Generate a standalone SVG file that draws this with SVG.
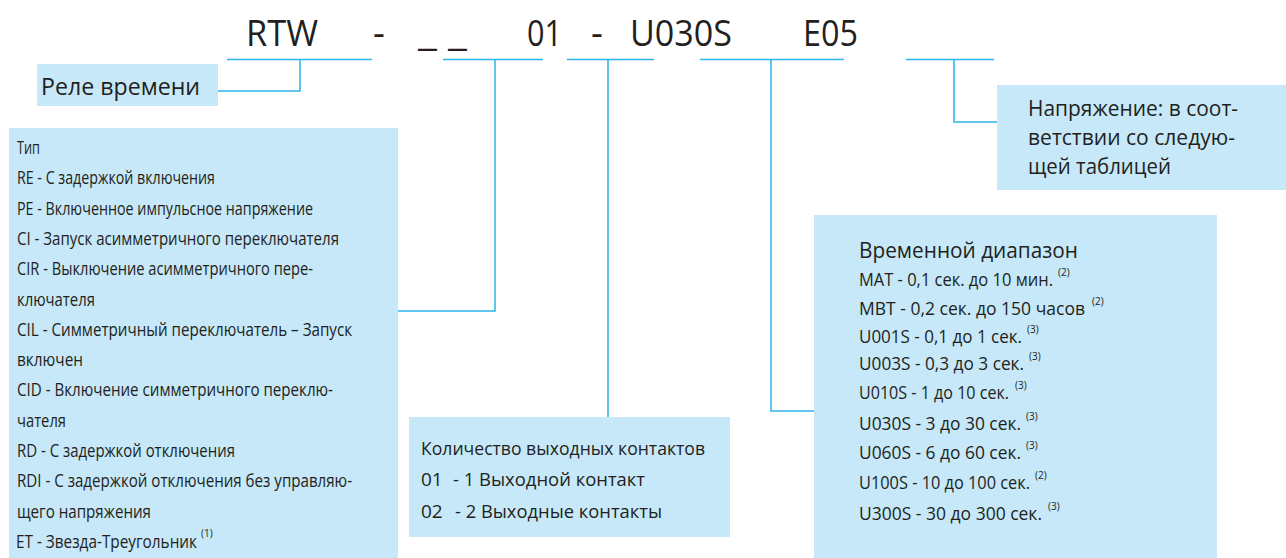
<svg xmlns="http://www.w3.org/2000/svg" width="1286" height="558" viewBox="0 0 1286 558">
<style>
text{font-family:"Open Sans","Noto Sans","Liberation Sans",sans-serif;fill:#231f20}
.code{font-size:37px}
.box{fill:#c6e8f8}
.t18{font-size:18px}
.t19{font-size:19px}
.t21{font-size:21px}
.t24{font-size:24px}
.sup{font-size:10px}
.ln{fill:none;stroke:#2bb5e9;stroke-width:1.5}
</style>
<rect width="1286" height="558" fill="#fff"/>
<g id="code">
<text class="code" x="246" y="46" textLength="72" lengthAdjust="spacingAndGlyphs">RTW</text>
<text class="code" x="373" y="46">-</text>
<text class="code" x="418" y="46" textLength="49" lengthAdjust="spacingAndGlyphs">_ _</text>
<text class="code" x="527" y="46" textLength="35" lengthAdjust="spacingAndGlyphs">01</text>
<text class="code" x="591" y="46">-</text>
<text class="code" x="630" y="46" textLength="102" lengthAdjust="spacingAndGlyphs">U030S</text>
<text class="code" x="803" y="46" textLength="55" lengthAdjust="spacingAndGlyphs">E05</text>
</g>
<g id="connectors">
<path class="ln" d="M227 59.5H372M300 59.5V91H218"/>
<path class="ln" d="M443 59.5H543M495 59.5V311H398"/>
<path class="ln" d="M567 59.5H654M608 59.5V417"/>
<path class="ln" d="M700 59.5H844M771 59.5V411H814"/>
<path class="ln" d="M906 59.5H994M954 59.5V122H997"/>
</g>
<g id="relay">
<rect class="box" x="37" y="64" width="181" height="42"/>
<text class="t24" x="41" y="95" textLength="159" lengthAdjust="spacingAndGlyphs">Реле времени</text>
</g>
<g id="type">
<rect class="box" x="9" y="128" width="389" height="430"/>
<g class="t18">
<text x="17" y="154" textLength="23" lengthAdjust="spacingAndGlyphs">Тип</text>
<text x="17" y="184.3" textLength="198" lengthAdjust="spacingAndGlyphs">RE - С задержкой включения</text>
<text x="17" y="214.6" textLength="296" lengthAdjust="spacingAndGlyphs">PE - Включенное импульсное напряжение</text>
<text x="17" y="244.9" textLength="322" lengthAdjust="spacingAndGlyphs">CI - Запуск асимметричного переключателя</text>
<text x="17" y="275.2" textLength="296" lengthAdjust="spacingAndGlyphs">CIR - Выключение асимметричного пере-</text>
<text x="17" y="305.5" textLength="78" lengthAdjust="spacingAndGlyphs">ключателя</text>
<text x="17" y="335.8" textLength="335" lengthAdjust="spacingAndGlyphs">CIL - Симметричный переключатель – Запуск</text>
<text x="17" y="366.1" textLength="66" lengthAdjust="spacingAndGlyphs">включен</text>
<text x="17" y="396.4" textLength="316" lengthAdjust="spacingAndGlyphs">CID - Включение симметричного переклю-</text>
<text x="17" y="426.7" textLength="49" lengthAdjust="spacingAndGlyphs">чателя</text>
<text x="17" y="457" textLength="218" lengthAdjust="spacingAndGlyphs">RD - С задержкой отключения</text>
<text x="17" y="487.3" textLength="335" lengthAdjust="spacingAndGlyphs">RDI - С задержкой отключения без управляю-</text>
<text x="17" y="517.6" textLength="134" lengthAdjust="spacingAndGlyphs">щего напряжения</text>
<text x="16" y="547.9" textLength="181" lengthAdjust="spacingAndGlyphs">ET - Звезда-Треугольник</text>
</g>
<text class="sup" x="201" y="537">(1)</text>
</g>
<g id="contacts">
<rect class="box" x="409" y="417" width="321" height="120"/>
<g class="t19">
<text x="421" y="455" textLength="284" lengthAdjust="spacingAndGlyphs">Количество выходных контактов</text>
<text x="421" y="486">01</text>
<text x="453" y="486" textLength="192" lengthAdjust="spacingAndGlyphs">- 1 Выходной контакт</text>
<text x="421" y="518">02</text>
<text x="455" y="518" textLength="207" lengthAdjust="spacingAndGlyphs">- 2 Выходные контакты</text>
</g>
</g>
<g id="range">
<rect class="box" x="814" y="215" width="403" height="343"/>
<text class="t21" x="859" y="258" textLength="219" lengthAdjust="spacingAndGlyphs">Временной диапазон</text>
<g class="t18">
<text x="859" y="286" textLength="194" lengthAdjust="spacingAndGlyphs">MAT - 0,1 сек. до 10 мин.</text>
<text x="859" y="315" textLength="226" lengthAdjust="spacingAndGlyphs">MBT - 0,2 сек. до 150 часов</text>
<text x="859" y="343" textLength="163" lengthAdjust="spacingAndGlyphs">U001S - 0,1 до 1 сек.</text>
<text x="859" y="370" textLength="165" lengthAdjust="spacingAndGlyphs">U003S - 0,3 до 3 сек.</text>
<text x="859" y="399" textLength="150" lengthAdjust="spacingAndGlyphs">U010S - 1 до 10 сек.</text>
<text x="859" y="430" textLength="162" lengthAdjust="spacingAndGlyphs">U030S - 3 до 30 сек.</text>
<text x="859" y="459" textLength="162" lengthAdjust="spacingAndGlyphs">U060S - 6 до 60 сек.</text>
<text x="859" y="489" textLength="171" lengthAdjust="spacingAndGlyphs">U100S - 10 до 100 сек.</text>
<text x="859" y="520" textLength="183" lengthAdjust="spacingAndGlyphs">U300S - 30 до 300 сек.</text>
</g>
<g class="sup">
<text x="1058" y="276">(2)</text>
<text x="1092" y="305">(2)</text>
<text x="1027" y="333">(3)</text>
<text x="1029" y="360">(3)</text>
<text x="1015" y="389">(3)</text>
<text x="1026" y="420">(3)</text>
<text x="1026" y="449">(3)</text>
<text x="1035" y="479">(2)</text>
<text x="1048" y="510">(3)</text>
</g>
</g>
<g id="voltage">
<rect class="box" x="997" y="85" width="289" height="105"/>
<g class="t21">
<text x="1028" y="116" textLength="210" lengthAdjust="spacingAndGlyphs">Напряжение: в соот-</text>
<text x="1028" y="145" textLength="207" lengthAdjust="spacingAndGlyphs">ветствии со следую-</text>
<text x="1028" y="174" textLength="143" lengthAdjust="spacingAndGlyphs">щей таблицей</text>
</g>
</g>
</svg>
